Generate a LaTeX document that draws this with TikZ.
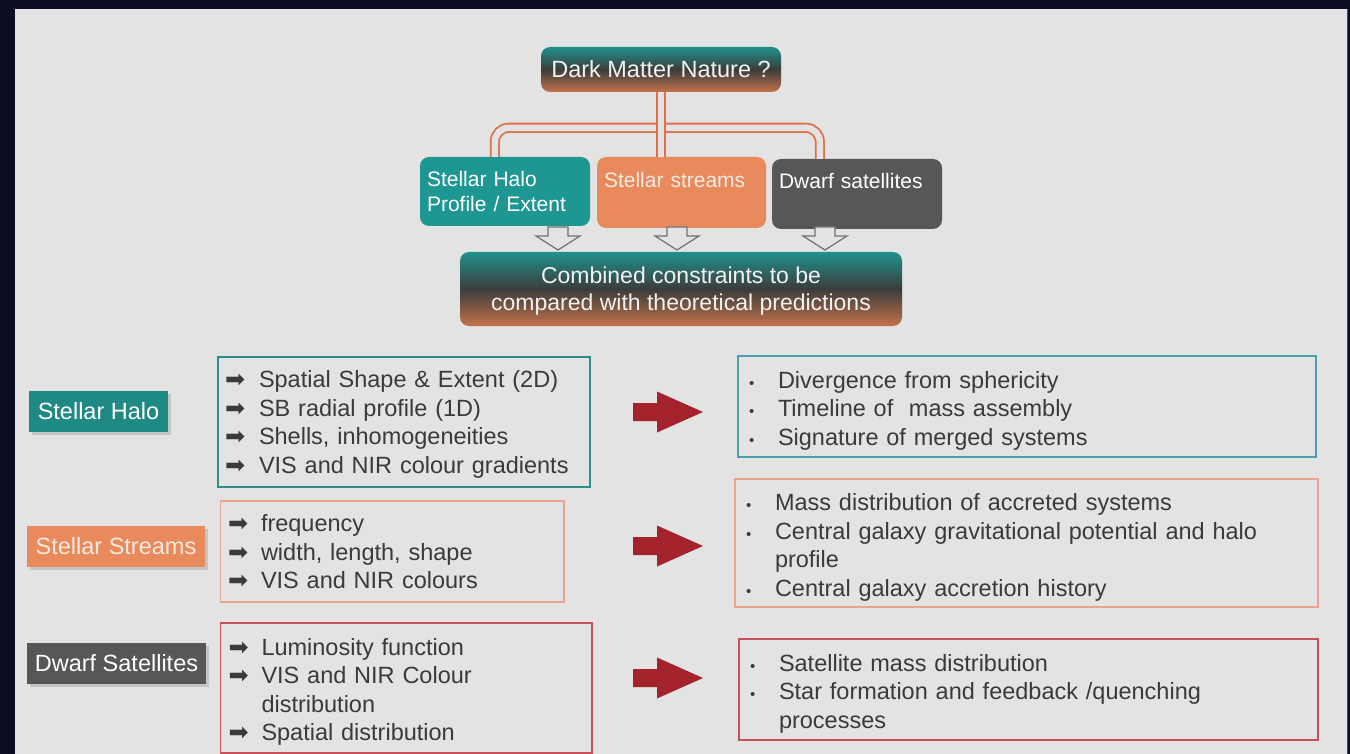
\documentclass[tikz,border=0pt]{standalone}
\usepackage{fontspec}
\setmainfont{Liberation Sans}
\newfontfamily\djv{DejaVu Sans}
\usetikzlibrary{calc,shadows}
\definecolor{bgdark}{HTML}{0B0E22}
\definecolor{panel}{HTML}{E3E3E3}
\definecolor{tealA}{HTML}{1E9792}
\definecolor{tealL}{HTML}{1F8984}
\definecolor{orng}{HTML}{E88A5B}
\definecolor{dgrey}{HTML}{575757}
\definecolor{redarr}{HTML}{A3222B}
\definecolor{txt}{HTML}{3A3A3A}
\definecolor{lighttxt}{HTML}{F6EAE2}
\definecolor{connc}{HTML}{E0704A}
\definecolor{bTeal}{HTML}{2E8C8C}
\definecolor{bTealB}{HTML}{4A9FAE}
\definecolor{bPeach}{HTML}{E9A58C}
\definecolor{bRed}{HTML}{C94F5A}
\definecolor{gTop}{HTML}{1F918B}
\definecolor{gMid}{HTML}{3B3D3C}
\definecolor{gBot}{HTML}{C4724A}
\definecolor{hollowc}{HTML}{707070}
\newcommand\rarr{{\djv\fontsize{24}{24}\selectfont ➡}}
\newcommand\dotb{{\fontsize{15}{15}\selectfont •}}
\begin{document}
\begin{tikzpicture}[x=1pt,y=-1pt,
  every node/.style={font=\fontsize{23.5}{28.5}\selectfont},
  topbox/.style={rounded corners=9pt, inner sep=0pt, text=white, font=\fontsize{21}{25}\selectfont},
  gradbox/.style={rounded corners=9pt, inner sep=0pt, top color=gTop, bottom color=gBot, middle color=gMid, text=white!95!black},
  lab/.style={inner sep=0pt, text=white, drop shadow={opacity=0.3, shadow xshift=3pt, shadow yshift=-3pt}},
  listbox/.style={inner ysep=0pt, line width=1.4pt, align=left, text=txt},
  dconn/.style={draw=connc, double=panel, line width=1.8pt, double distance=6.5pt, rounded corners=14pt},
  hollow/.style={draw=hollowc, fill=panel, line width=1.2pt, line join=miter},
  hollowarr/.pic={\draw[hollow] (-10,0) -- (10,0) -- (10,9) -- (22,9) -- (0,23) -- (-22,9) -- (-10,9) -- cycle;},
  redarrow/.pic={\fill[redarr] (0,-9) -- (24,-9) -- (24,-20.5) -- (70,0) -- (24,20.5) -- (24,9) -- (0,9) -- cycle;}
]
\useasboundingbox (0,0) rectangle (1350,754);
\fill[bgdark] (0,0) rectangle (1350,754);
\fill[panel] (15,9) rectangle (1347,754);
\draw[gray!60!black, line width=1pt] (1347,9) -- (1347,754);

% top part
\node[gradbox, minimum width=240pt, minimum height=45pt] (dm) at (661,69.5) {Dark Matter Nature ?};
\node[topbox, fill=tealA, text width=156pt, inner xsep=7pt, minimum height=69pt, align=left] (sh) at (505,191.5) {Stellar Halo\\Profile / Extent};
\node[topbox, fill=orng, text=lighttxt, text width=155pt, inner xsep=7pt, minimum height=71pt, align=left] (ss) at (681.5,192.5) {Stellar streams\\[-7pt]\strut};
\node[topbox, fill=dgrey, text width=156pt, inner xsep=7pt, minimum height=70pt, align=left] (ds) at (857,194) {Dwarf satellites\\[-7pt]\strut};
\node[gradbox, minimum width=442pt, minimum height=74pt, align=center, font=\fontsize{23}{27}\selectfont] (cb) at (681,289) {Combined constraints to be\\compared with theoretical predictions\vspace*{-4pt}};

\coordinate (cl) at ($(sh.north west)+(75,0)$);
\coordinate (cr) at ($(ds.north west)+(48,0)$);
\draw[dconn] (cl) -- ++(0,-29) -| (cr);
\draw[dconn] (dm.south) -- (dm.south |- ss.north);

\pic at (558,227) {hollowarr};
\pic at (677,227) {hollowarr};
\pic at (825,227) {hollowarr};

% left labels
\node[lab, fill=tealL, minimum width=139pt, minimum height=41pt] (lh) at (98.5,411.5) {Stellar Halo};
\node[lab, fill=orng, text=lighttxt, minimum width=178pt, minimum height=41pt] (ls) at (116,546.5) {Stellar Streams};
\node[lab, fill=dgrey, minimum width=179pt, minimum height=41pt] (ld) at (116.5,663.5) {Dwarf Satellites};

% lists
\node[listbox, draw=bTeal, inner xsep=7pt, text width=358pt, minimum height=130pt] (hl) at (404,422) {%
\begin{tabular}{@{}p{34pt}@{}l@{}}
\rarr & Spatial Shape \& Extent (2D)\\
\rarr & SB radial profile (1D)\\
\rarr & Shells, inhomogeneities\\
\rarr & VIS and NIR colour gradients
\end{tabular}\vspace*{-6pt}};
\node[listbox, draw=bPeach, inner xsep=7.5pt, text width=328.5pt, minimum height=101pt] (sl) at (392.25,551.5) {%
\begin{tabular}{@{}p{33pt}@{}l@{}}
\rarr & frequency\\
\rarr & width, length, shape\\
\rarr & VIS and NIR colours
\end{tabular}\vspace*{-6pt}};
\node[listbox, draw=bRed, inner xsep=8pt, text width=355.5pt, minimum height=130pt] (dl) at (406.25,688) {%
\begin{tabular}{@{}p{33pt}@{}l@{}}
\rarr & Luminosity function\\
\rarr & VIS and NIR Colour\\
 & distribution\\
\rarr & Spatial distribution
\end{tabular}\vspace*{-9pt}};

% results
\node[listbox, draw=bTealB, inner xsep=11pt, text width=556pt, minimum height=101pt] (hr) at (1027,406.5) {%
\begin{tabular}{@{}p{29pt}@{}l@{}}
\dotb & Divergence from sphericity\\
\dotb & Timeline of~ mass assembly\\
\dotb & Signature of merged systems
\end{tabular}\vspace*{-9pt}};
\node[listbox, draw=bPeach, inner xsep=11pt, text width=561pt, minimum height=128pt] (sr) at (1026.5,543) {%
\begin{tabular}{@{}p{29pt}@{}l@{}}
\dotb & Mass distribution of accreted systems\\
\dotb & Central galaxy gravitational potential and halo\\
 & profile\\
\dotb & Central galaxy accretion history
\end{tabular}\vspace*{-10pt}};
\node[listbox, draw=bRed, inner xsep=11pt, text width=557pt, minimum height=101pt] (dr) at (1028.5,689.5) {%
\begin{tabular}{@{}p{29pt}@{}l@{}}
\dotb & Satellite mass distribution\\
\dotb & Star formation and feedback /quenching\\
 & processes
\end{tabular}\vspace*{-9pt}};

\pic at (633,412) {redarrow};
\pic at (633,546) {redarrow};
\pic at (633,678) {redarrow};
\end{tikzpicture}
\end{document}
